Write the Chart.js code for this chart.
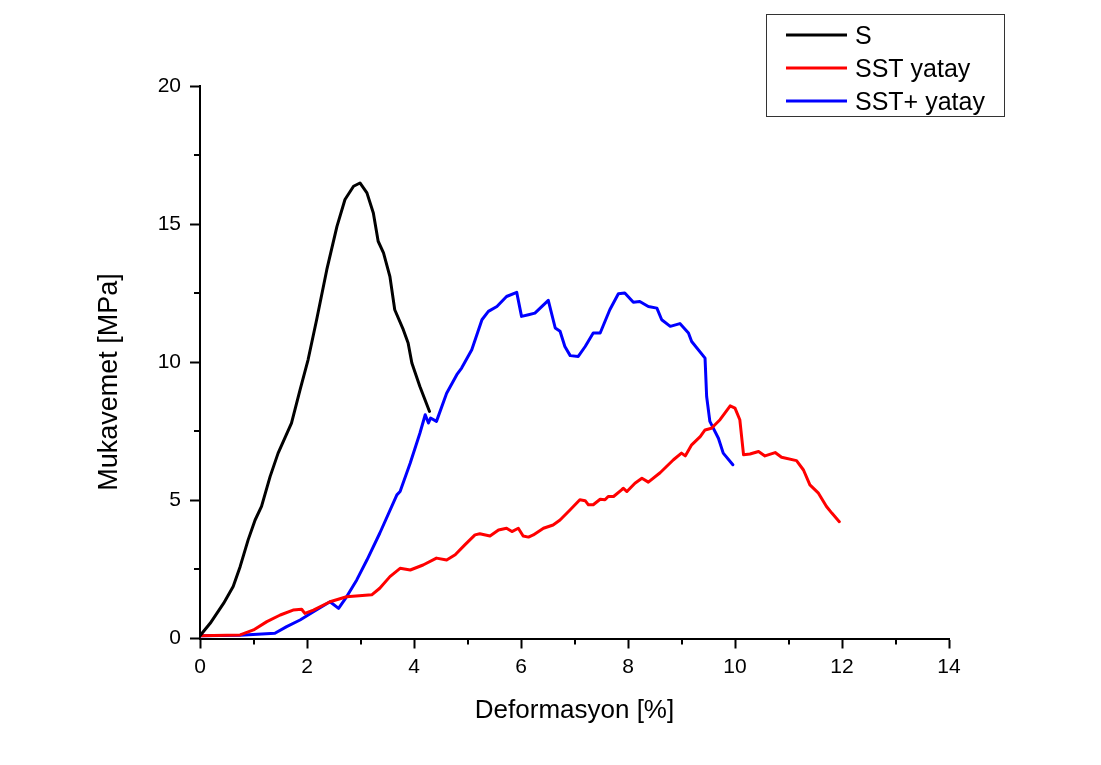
<!DOCTYPE html>
<html>
<head>
<meta charset="utf-8">
<script src="https://cdn.jsdelivr.net/npm/chart.js@4"></script>
<style>
  body { margin: 0; background: #fff; }
  canvas { display: block; }
</style>
</head>
<body>
<canvas id="chart" width="1101" height="765"></canvas>
<script>
// S
var sStrain = [0, 0.19, 0.44, 0.62, 0.75, 0.90, 1.03, 1.15, 1.31, 1.46, 1.71, 1.87, 2.02, 2.18, 2.37, 2.56, 2.71, 2.87, 2.99, 3.12, 3.24, 3.33, 3.43, 3.55, 3.64, 3.80, 3.89, 3.96, 4.11, 4.29];
var sStress = [0.1, 0.55, 1.27, 1.88, 2.6, 3.57, 4.29, 4.78, 5.86, 6.71, 7.8, 9.0, 10.09, 11.54, 13.35, 14.92, 15.89, 16.37, 16.49, 16.13, 15.4, 14.38, 13.96, 13.1, 11.9, 11.18, 10.7, 9.97, 9.12, 8.22];

// SST yatay
var sstStrain = [0, 0.75, 1.0, 1.25, 1.50, 1.74, 1.90, 1.96, 2.12, 2.43, 2.74, 3.21, 3.36, 3.55, 3.74, 3.93, 4.17, 4.42, 4.61, 4.77, 4.95, 5.14, 5.23, 5.42, 5.58, 5.73, 5.83, 5.95, 6.04, 6.14, 6.23, 6.42, 6.60, 6.73, 6.92, 7.10, 7.20, 7.26, 7.35, 7.48, 7.57, 7.63, 7.73, 7.88, 7.91, 7.98, 8.13, 8.26, 8.38, 8.60, 8.85, 9.0, 9.07, 9.19, 9.35, 9.44, 9.56, 9.72, 9.91, 10.0, 10.09, 10.16, 10.28, 10.44, 10.56, 10.75, 10.87, 11.15, 11.28, 11.40, 11.56, 11.71, 11.81, 11.95];
var sstStress = [0.1, 0.13, 0.31, 0.61, 0.85, 1.03, 1.06, 0.91, 1.03, 1.33, 1.51, 1.58, 1.82, 2.24, 2.54, 2.48, 2.66, 2.91, 2.84, 3.03, 3.39, 3.75, 3.79, 3.71, 3.93, 3.99, 3.87, 3.99, 3.71, 3.67, 3.75, 3.99, 4.11, 4.29, 4.66, 5.02, 4.99, 4.84, 4.84, 5.04, 5.02, 5.14, 5.14, 5.38, 5.44, 5.32, 5.62, 5.8, 5.66, 6.0, 6.47, 6.71, 6.61, 7.01, 7.31, 7.55, 7.61, 7.92, 8.42, 8.34, 7.92, 6.65, 6.68, 6.77, 6.61, 6.73, 6.56, 6.44, 6.1, 5.56, 5.26, 4.78, 4.54, 4.23];

// SST+ yatay
var sstPlusStrain = [0, 0.75, 1.40, 1.62, 1.87, 2.12, 2.43, 2.59, 2.74, 2.93, 3.12, 3.36, 3.68, 3.74, 3.93, 4.11, 4.21, 4.27, 4.31, 4.42, 4.61, 4.80, 4.89, 5.08, 5.27, 5.39, 5.55, 5.73, 5.92, 6.01, 6.14, 6.26, 6.51, 6.64, 6.73, 6.82, 6.92, 7.07, 7.20, 7.35, 7.48, 7.66, 7.82, 7.94, 8.10, 8.22, 8.38, 8.54, 8.63, 8.79, 8.97, 9.13, 9.19, 9.44, 9.47, 9.53, 9.69, 9.78, 9.96];
var sstPlusStress = [0.1, 0.12, 0.19, 0.43, 0.67, 0.97, 1.33, 1.09, 1.51, 2.12, 2.84, 3.81, 5.2, 5.32, 6.35, 7.43, 8.1, 7.8, 7.98, 7.86, 8.88, 9.55, 9.79, 10.45, 11.54, 11.84, 12.02, 12.38, 12.53, 11.66, 11.72, 11.78, 12.24, 11.24, 11.12, 10.57, 10.24, 10.21, 10.57, 11.06, 11.06, 11.9, 12.48, 12.51, 12.17, 12.2, 12.02, 11.96, 11.54, 11.3, 11.4, 11.06, 10.75, 10.15, 8.76, 7.86, 7.25, 6.71, 6.29];

var seriesLabels = ['S', 'SST yatay', 'SST+ yatay'];
var seriesColors = ['#000000', '#ff0000', '#0000ff'];
var xTitle = 'Deformasyon [%]';
var yTitle = 'Mukavemet [MPa]';
var xMinorTicks = [1, 3, 5, 7, 9, 11, 13];
var yMinorTicks = [2.5, 7.5, 12.5, 17.5];

var FONT = '"Liberation Sans", Arial, sans-serif';

function toPoints(xs, ys) {
  return xs.map(function (x, i) { return { x: x, y: ys[i] }; });
}

var seriesData = [
  toPoints(sStrain, sStress),
  toPoints(sstStrain, sstStress),
  toPoints(sstPlusStrain, sstPlusStress)
];

// minor ticks + axis titles + boxed legend
var extras = {
  id: 'extras',
  afterDraw: function (chart) {
    var ctx = chart.ctx;
    var xs = chart.scales.x, ys = chart.scales.y;
    var area = chart.chartArea;
    ctx.save();
    ctx.strokeStyle = '#000';
    ctx.lineWidth = 2;
    ctx.beginPath();
    xMinorTicks.forEach(function (v) {
      var px = Math.round(xs.getPixelForValue(v));
      ctx.moveTo(px, area.bottom);
      ctx.lineTo(px, area.bottom + 6);
    });
    yMinorTicks.forEach(function (v) {
      var py = Math.round(ys.getPixelForValue(v));
      ctx.moveTo(area.left - 6, py);
      ctx.lineTo(area.left, py);
    });
    ctx.stroke();

    ctx.fillStyle = '#000';
    ctx.font = '26px ' + FONT;
    ctx.textAlign = 'center';
    ctx.textBaseline = 'alphabetic';
    ctx.fillText(xTitle, (area.left + area.right) / 2, 718);
    ctx.save();
    ctx.translate(117, 382);
    ctx.rotate(-Math.PI / 2);
    ctx.font = '27px ' + FONT;
    ctx.fillText(yTitle, 0, 0);
    ctx.restore();

    // legend box
    ctx.strokeStyle = '#333';
    ctx.lineWidth = 1;
    ctx.strokeRect(766.5, 14.5, 238, 102);
    ctx.font = '25px ' + FONT;
    ctx.textAlign = 'left';
    chart.data.datasets.forEach(function (ds, i) {
      var ly = 35 + i * 33;
      ctx.strokeStyle = ds.borderColor;
      ctx.lineWidth = 3;
      ctx.beginPath();
      ctx.moveTo(786, ly);
      ctx.lineTo(847, ly);
      ctx.stroke();
      ctx.fillStyle = '#000';
      ctx.fillText(ds.label, 855, ly + 9);
    });
    ctx.restore();
  }
};

new Chart(document.getElementById('chart'), {
  type: 'line',
  data: {
    datasets: seriesData.map(function (pts, i) {
      return {
        label: seriesLabels[i],
        data: pts,
        borderColor: seriesColors[i],
        backgroundColor: seriesColors[i],
        borderWidth: 3,
        borderJoinStyle: 'round',
        borderCapStyle: 'round',
        pointRadius: 0,
        tension: 0,
        fill: false
      };
    })
  },
  options: {
    responsive: false,
    animation: false,
    devicePixelRatio: 1,
    layout: { padding: { top: 86, right: 152, left: 0, bottom: 0 } },
    plugins: {
      legend: { display: false },
      tooltip: { enabled: false }
    },
    scales: {
      x: {
        type: 'linear',
        min: 0,
        max: 14,
        afterFit: function (scale) { scale.height = 126.5; },
        border: { display: true, color: '#000', width: 2 },
        grid: { drawOnChartArea: false, drawTicks: true, tickLength: 10, tickColor: '#000', tickWidth: 2 },
        ticks: { stepSize: 2, color: '#000', padding: 6, font: { family: FONT, size: 21 } }
      },
      y: {
        min: 0,
        max: 20,
        afterFit: function (scale) { scale.width = 200; },
        border: { display: true, color: '#000', width: 2 },
        grid: { drawOnChartArea: false, drawTicks: true, tickLength: 10, tickColor: '#000', tickWidth: 2 },
        ticks: { stepSize: 5, color: '#000', padding: 9, font: { family: FONT, size: 21 } }
      }
    }
  },
  plugins: [extras]
});
</script>
</body>
</html>
